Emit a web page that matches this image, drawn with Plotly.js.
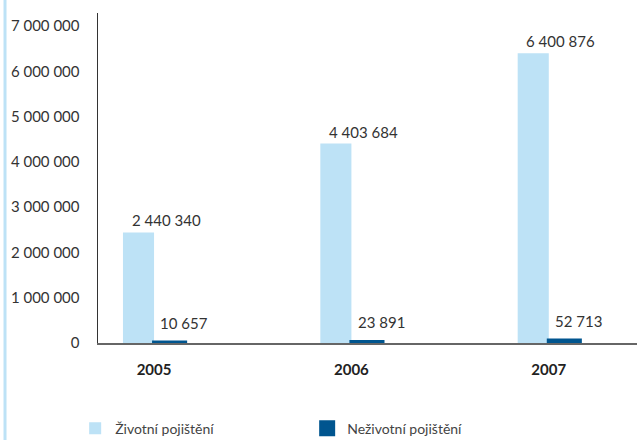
<!DOCTYPE html>
<html>
<head>
<meta charset="utf-8">
<script src="https://cdn.plot.ly/plotly-3.0.1.min.js"></script>
<style>html,body{margin:0;padding:0;background:#fff;}#chart{width:637px;height:440px;}</style>
</head>
<body>
<div id="chart"></div>
<script>
const years = ['2005', '2006', '2007'];
const zivotni = [2440340, 4403684, 6400876];
const nezivotni = [10657, 23891, 52713];
const seriesNames = ['Životní pojištění', 'Neživotní pojištění'];
const yTickVals = [0, 1000000, 2000000, 3000000, 4000000, 5000000, 6000000, 7000000];

function fmt(v) {
  return String(v).replace(/\B(?=(\d{3})+(?!\d))/g, ' ');
}

const lightColor = '#bde2f6';
const darkColor = '#00558f';
const FONT = 'Lato, "DejaVu Sans", sans-serif';

const traces = [
  {
    type: 'bar', name: seriesNames[0], x: years, y: zivotni,
    marker: {color: lightColor}, hoverinfo: 'none'
  },
  {
    type: 'bar', name: seriesNames[1], x: years, y: nezivotni,
    marker: {color: darkColor, line: {color: darkColor, width: 4}}, hoverinfo: 'none'
  }
];

const annotations = [];
years.forEach((yr, i) => {
  annotations.push({x: i, y: zivotni[i], xref: 'x', yref: 'y', text: fmt(zivotni[i]),
    showarrow: false, xanchor: 'center', yanchor: 'bottom', xshift: 12, yshift: 1,
    font: {family: FONT, size: 15, color: '#333'}});
  annotations.push({x: i, y: nezivotni[i], xref: 'x', yref: 'y', text: fmt(nezivotni[i]),
    showarrow: false, xanchor: 'center', yanchor: 'bottom', xshift: 30, yshift: 9,
    font: {family: FONT, size: 15, color: '#333'}});
});

const layout = {
  width: 637, height: 440,
  margin: {l: 98, r: 0, t: 13, b: 97},
  paper_bgcolor: '#fff', plot_bgcolor: '#fff',
  font: {family: FONT, size: 15, color: '#333'},
  barmode: 'group', bargap: 0.685, bargroupgap: 0,
  showlegend: true,
  legend: {orientation: 'h', xref: 'container', yref: 'container',
    x: 0.118, xanchor: 'left', y: 0.062, yanchor: 'top',
    entrywidth: 187, entrywidthmode: 'pixels',
    font: {family: FONT, size: 14, color: '#444'}, bgcolor: 'rgba(0,0,0,0)'},
  xaxis: {
    type: 'category', range: [-0.284, 2.447], showgrid: false, zeroline: false,
    showline: true, linecolor: '#666', linewidth: 2, ticks: '',
    ticklabelstandoff: 12,
    tickfont: {family: FONT, size: 15, color: '#222', weight: 'bold'}
  },
  yaxis: {
    range: [0, 7287000], tickvals: yTickVals, ticktext: yTickVals.map(fmt),
    showgrid: false, zeroline: false, showline: true, linecolor: '#333', linewidth: 1.5,
    ticks: '', ticklabelstandoff: 14,
    tickfont: {family: FONT, size: 15, color: '#333'}
  },
  annotations: annotations,
  shapes: [
    {type: 'line', xref: 'paper', yref: 'paper', x0: -0.1725, x1: -0.1725, y0: -0.3, y1: 1.05,
      line: {color: '#bde2f6', width: 3}}
  ]
};

Plotly.newPlot('chart', traces, layout, {displayModeBar: false, staticPlot: true});
</script>
</body>
</html>
